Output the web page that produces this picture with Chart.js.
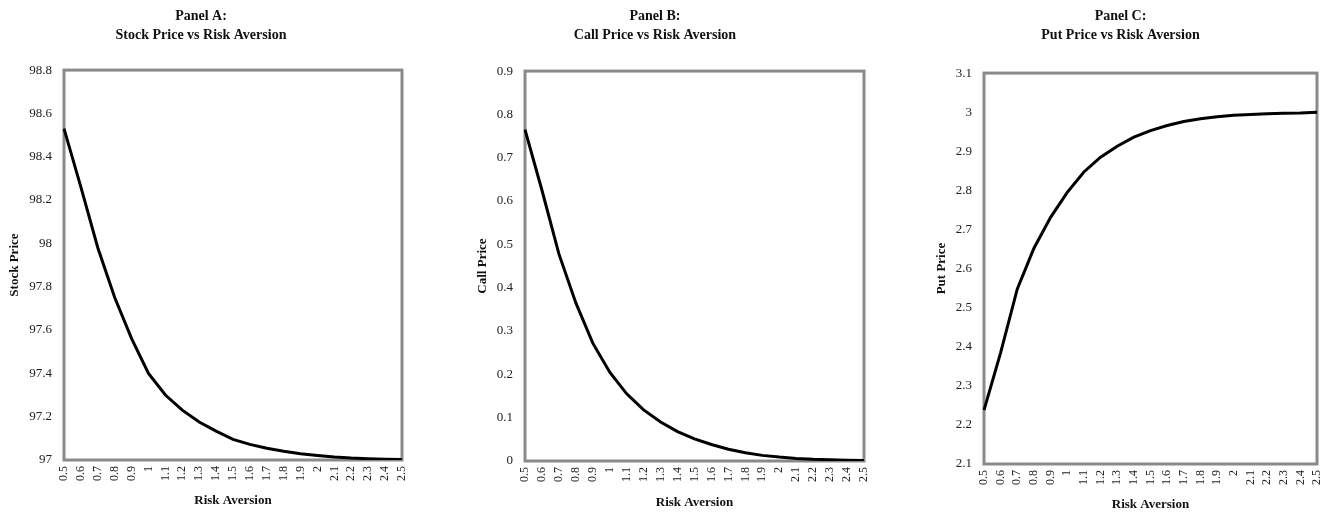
<!DOCTYPE html>
<html>
<head>
<meta charset="utf-8">
<script src="https://cdn.jsdelivr.net/npm/chart.js@4.4.1/dist/chart.umd.min.js"></script>
<style>
  html, body { margin: 0; padding: 0; background: #fff; overflow: hidden; }
  body { width: 1334px; height: 514px; position: relative; }
  .panel { position: absolute; top: 0; height: 514px; }
</style>
</head>
<body>
<div class="panel" id="pA" style="left:0px;width:420px"><canvas id="cA"></canvas></div>
<div class="panel" id="pB" style="left:446px;width:448px"><canvas id="cB"></canvas></div>
<div class="panel" id="pC" style="left:924px;width:410px"><canvas id="cC"></canvas></div>
<script>
// Risk aversion categories (x-axis tick labels)
const riskAversion = ['0.5','0.6','0.7','0.8','0.9','1','1.1','1.2','1.3','1.4','1.5','1.6','1.7','1.8','1.9','2','2.1','2.2','2.3','2.4','2.5'];

// Series values
const stockPrice = [98.53, 98.26, 97.98, 97.75, 97.56, 97.40, 97.30, 97.23, 97.175, 97.133, 97.095, 97.072, 97.054, 97.04, 97.029, 97.021, 97.014, 97.009, 97.006, 97.004, 97.002];
const callPrice  = [0.765, 0.625, 0.478, 0.365, 0.272, 0.205, 0.155, 0.118, 0.090, 0.068, 0.051, 0.038, 0.027, 0.019, 0.013, 0.009, 0.006, 0.004, 0.003, 0.002, 0.001];
const putPrice   = [2.238, 2.385, 2.548, 2.652, 2.731, 2.795, 2.847, 2.885, 2.913, 2.936, 2.953, 2.966, 2.976, 2.983, 2.988, 2.992, 2.994, 2.996, 2.997, 2.998, 3.0];

// Titles
const titleA = ['Panel A:', 'Stock Price vs Risk Aversion'];
const titleB = ['Panel B:', 'Call Price vs Risk Aversion'];
const titleC = ['Panel C:', 'Put Price vs Risk Aversion'];
const xTitle = 'Risk Aversion';

// Y axis ranges
const yRangeA = [97, 98.8, 0.2];
const yRangeB = [0, 0.9, 0.1];
const yRangeC = [2.1, 3.1, 0.1];

const SERIF = "'Liberation Serif', 'Times New Roman', serif";

const framePlugin = {
  id: 'frame',
  beforeDatasetsDraw(chart) {
    const a = chart.chartArea;
    const ctx = chart.ctx;
    ctx.save();
    ctx.strokeStyle = '#8a8a8a';
    ctx.lineWidth = 3;
    ctx.strokeRect(a.left, a.top, a.right - a.left, a.bottom - a.top);
    ctx.restore();
  }
};

function makeChart(id, cfg) {
  return new Chart(document.getElementById(id), {
    type: 'line',
    data: {
      labels: riskAversion,
      datasets: [{
        data: cfg.values,
        borderColor: '#000',
        borderWidth: 3,
        pointRadius: 0,
        tension: 0,
        fill: false
      }]
    },
    options: {
      responsive: true,
      maintainAspectRatio: false,
      animation: false,
      layout: { padding: { left: 0, right: cfg.padRight, top: 0, bottom: 0 } },
      plugins: {
        legend: { display: false },
        tooltip: { enabled: false },
        title: {
          display: true,
          text: cfg.title,
          color: '#111',
          font: { family: SERIF, size: 14, weight: 'bold', lineHeight: 1.36 },
          padding: { top: 7, bottom: cfg.titleBottom }
        }
      },
      scales: {
        x: {
          type: 'category',
          grid: { display: false, drawTicks: false },
          border: { display: false },
          ticks: {
            autoSkip: false,
            maxRotation: 90,
            minRotation: 90,
            padding: 6,
            color: '#222',
            font: { family: SERIF, size: 12 }
          },
          title: {
            display: true,
            text: xTitle,
            color: '#111',
            font: { family: SERIF, size: 13, weight: 'bold', lineHeight: 1.2 },
            padding: { top: 0, bottom: cfg.xTitlePad }
          },
          afterFit(scale) {
            scale.height = cfg.xHeight;
            scale.paddingLeft = 0;
            scale.paddingRight = 0;
          }
        },
        y: {
          type: 'linear',
          min: cfg.yRange[0],
          max: cfg.yRange[1],
          grid: { display: false, drawTicks: false },
          border: { display: false },
          ticks: {
            stepSize: cfg.yRange[2],
            padding: 12,
            color: '#222',
            font: { family: SERIF, size: 13 },
            callback: (v) => String(+v.toFixed(3))
          },
          title: {
            display: true,
            text: cfg.yTitle,
            color: '#111',
            font: { family: SERIF, size: 13, weight: 'bold', lineHeight: 1.2 },
            padding: { top: cfg.yTitlePad, bottom: 0 }
          },
          afterFit(scale) { scale.width = cfg.yWidth; }
        }
      }
    },
    plugins: [framePlugin]
  });
}

makeChart('cA', { values: stockPrice, title: titleA, yTitle: 'Stock Price', yRange: yRangeA,
  padRight: 18, titleBottom: 25, xHeight: 54, yWidth: 64, yTitlePad: 7, xTitlePad: 6 });
makeChart('cB', { values: callPrice, title: titleB, yTitle: 'Call Price', yRange: yRangeB,
  padRight: 30, titleBottom: 26, xHeight: 53, yWidth: 79, yTitlePad: 29, xTitlePad: 4 });
makeChart('cC', { values: putPrice, title: titleC, yTitle: 'Put Price', yRange: yRangeC,
  padRight: 17, titleBottom: 28, xHeight: 50, yWidth: 60, yTitlePad: 10, xTitlePad: 2 });
</script>
</body>
</html>
